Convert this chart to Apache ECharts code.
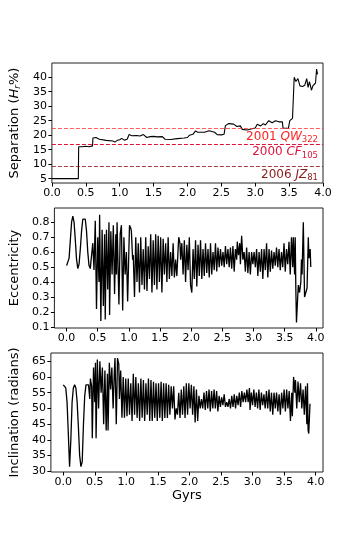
<!DOCTYPE html>
<html>
<head>
<meta charset="utf-8">
<script src="https://cdn.jsdelivr.net/npm/echarts@6/dist/echarts.min.js"></script>
<style>
  html, body { margin: 0; padding: 0; background: #fff; }
  #main { width: 360px; height: 540px; }
</style>
</head>
<body>
<div id="main"></div>
<script>
// separation of the pair in percent of Hill radius, [Gyr, value]
const separation = [
  [0, 5], [0.39, 5], [0.395, 16], [0.45, 16], [0.5, 16.2], [0.55, 16], [0.6, 16.3],
  [0.605, 19], [0.65, 19.2], [0.7, 18.6], [0.8, 18.2], [0.9, 18], [0.93, 17.6], [0.97, 18.3],
  [1.0, 18.4], [1.03, 18.9], [1.07, 18.3], [1.11, 18.6], [1.14, 20.2], [1.18, 19.8], [1.25, 19.9],
  [1.3, 19.7], [1.35, 20.2], [1.4, 19.2], [1.45, 19.5], [1.5, 19.6], [1.55, 19.4], [1.63, 19.5],
  [1.67, 18.6], [1.75, 18.5], [1.85, 18.8], [1.95, 19], [2.0, 19.2], [2.03, 20], [2.08, 20.3],
  [2.12, 21.5], [2.15, 21], [2.25, 21], [2.32, 21.5], [2.4, 21], [2.44, 20.2], [2.5, 20.1],
  [2.54, 20.3], [2.56, 23.3], [2.61, 24], [2.68, 23.8], [2.73, 23], [2.78, 23.2], [2.81, 22],
  [2.88, 21.8], [2.95, 22.2], [3.0, 22.5], [3.03, 23.8], [3.08, 23.2], [3.12, 24], [3.15, 23.5],
  [3.2, 25], [3.25, 24.3], [3.3, 25], [3.35, 24.6], [3.4, 24.6], [3.41, 22.5], [3.49, 22.4],
  [3.51, 25], [3.55, 25.8], [3.565, 26], [3.575, 40], [3.6, 38.5], [3.63, 39.5], [3.66, 37],
  [3.7, 36.8], [3.73, 37.2], [3.76, 39.5], [3.78, 36.5], [3.8, 38.5], [3.83, 35.5], [3.85, 37],
  [3.87, 36.8], [3.89, 38], [3.905, 42.8], [3.92, 41]
];

const eccentricity = [
  [0.00, 0.51], [0.02, 0.50], [0.04, 0.56], [0.06, 0.68], [0.08, 0.80], [0.10, 0.84], [0.12, 0.80],
  [0.14, 0.68], [0.16, 0.55], [0.18, 0.49], [0.20, 0.52], [0.22, 0.62], [0.24, 0.74], [0.26, 0.82],
  [0.28, 0.83], [0.30, 0.82], [0.32, 0.74], [0.34, 0.60], [0.36, 0.51], [0.38, 0.49], [0.40, 0.50],
  [0.42, 0.66], [0.44, 0.48], [0.46, 0.81], [0.48, 0.22], [0.50, 0.70], [0.52, 0.40], [0.53, 0.85],
  [0.55, 0.14], [0.57, 0.75], [0.59, 0.24], [0.61, 0.72], [0.62, 0.15], [0.64, 0.75], [0.66, 0.35],
  [0.68, 0.80], [0.69, 0.18], [0.71, 0.74], [0.73, 0.45], [0.75, 0.78], [0.77, 0.32], [0.79, 0.72],
  [0.80, 0.45], [0.81, 0.80], [0.84, 0.25], [0.86, 0.72], [0.88, 0.78], [0.90, 0.21], [0.92, 0.70],
  [0.94, 0.45], [0.96, 0.60], [0.98, 0.27], [1.00, 0.62], [1.01, 0.78], [1.03, 0.76], [1.04, 0.74],
  [1.06, 0.55], [1.07, 0.58], [1.09, 0.30], [1.11, 0.70], [1.13, 0.40], [1.15, 0.66], [1.17, 0.33],
  [1.19, 0.70], [1.21, 0.38], [1.23, 0.62], [1.25, 0.35], [1.27, 0.70], [1.29, 0.34], [1.31, 0.64],
  [1.33, 0.42], [1.35, 0.72], [1.37, 0.33], [1.39, 0.68], [1.41, 0.38], [1.43, 0.72], [1.45, 0.35],
  [1.47, 0.71], [1.49, 0.40], [1.51, 0.70], [1.53, 0.33], [1.55, 0.69], [1.57, 0.45], [1.59, 0.66],
  [1.61, 0.40], [1.63, 0.70], [1.65, 0.42], [1.67, 0.60], [1.69, 0.44], [1.71, 0.66], [1.73, 0.43],
  [1.75, 0.55], [1.77, 0.44], [1.79, 0.62], [1.80, 0.70], [1.82, 0.66], [1.83, 0.55], [1.85, 0.66],
  [1.87, 0.45], [1.89, 0.68], [1.91, 0.40], [1.93, 0.65], [1.95, 0.48], [1.97, 0.70], [1.99, 0.38],
  [2.01, 0.33], [2.03, 0.62], [2.05, 0.42], [2.07, 0.68], [2.09, 0.37], [2.11, 0.65], [2.13, 0.44],
  [2.15, 0.68], [2.17, 0.42], [2.19, 0.62], [2.21, 0.44], [2.23, 0.66], [2.25, 0.46], [2.27, 0.62],
  [2.29, 0.43], [2.31, 0.66], [2.33, 0.45], [2.35, 0.60], [2.37, 0.48], [2.39, 0.66], [2.41, 0.47],
  [2.43, 0.63], [2.45, 0.50], [2.47, 0.62], [2.49, 0.51], [2.51, 0.60], [2.53, 0.50], [2.55, 0.64],
  [2.57, 0.52], [2.59, 0.62], [2.61, 0.50], [2.63, 0.63], [2.65, 0.49], [2.67, 0.64], [2.69, 0.47],
  [2.71, 0.62], [2.73, 0.55], [2.74, 0.67], [2.76, 0.58], [2.78, 0.66], [2.79, 0.52], [2.81, 0.71],
  [2.83, 0.55], [2.85, 0.60], [2.87, 0.47], [2.89, 0.63], [2.91, 0.46], [2.93, 0.60], [2.95, 0.45],
  [2.97, 0.60], [2.99, 0.52], [3.01, 0.60], [3.03, 0.50], [3.05, 0.62], [3.07, 0.44], [3.09, 0.60],
  [3.11, 0.47], [3.13, 0.62], [3.15, 0.42], [3.17, 0.62], [3.19, 0.48], [3.21, 0.66], [3.23, 0.43],
  [3.25, 0.62], [3.27, 0.47], [3.29, 0.61], [3.31, 0.49], [3.33, 0.60], [3.35, 0.51], [3.37, 0.63],
  [3.39, 0.50], [3.41, 0.62], [3.43, 0.48], [3.45, 0.60], [3.47, 0.50], [3.49, 0.66], [3.51, 0.47],
  [3.53, 0.62], [3.55, 0.52], [3.57, 0.67], [3.59, 0.45], [3.61, 0.70], [3.63, 0.50], [3.64, 0.70],
  [3.66, 0.45], [3.67, 0.70], [3.68, 0.35], [3.69, 0.13], [3.71, 0.30], [3.72, 0.38], [3.74, 0.33],
  [3.76, 0.40], [3.77, 0.55], [3.78, 0.45], [3.80, 0.80], [3.81, 0.55], [3.82, 0.30], [3.84, 0.33],
  [3.85, 0.32], [3.86, 0.36], [3.88, 0.70], [3.89, 0.56], [3.91, 0.62], [3.92, 0.50]
];

const inclination = [
  [0.00, 57.5], [0.02, 57.8], [0.04, 56.5], [0.06, 52], [0.08, 42], [0.10, 31.5], [0.12, 40],
  [0.14, 52], [0.16, 56.5], [0.18, 57.5], [0.20, 56.5], [0.22, 52], [0.24, 44], [0.26, 35],
  [0.28, 31.5], [0.30, 33], [0.32, 45], [0.34, 54], [0.36, 57.5], [0.38, 58], [0.40, 57.5],
  [0.42, 53], [0.43, 59.5], [0.45, 57], [0.46, 40.5], [0.48, 63], [0.50, 52], [0.51, 64.5],
  [0.52, 40.5], [0.54, 65.5], [0.56, 50], [0.58, 65], [0.60, 55], [0.62, 63], [0.64, 45],
  [0.66, 62], [0.68, 43], [0.70, 61], [0.71, 43], [0.73, 64.5], [0.75, 56], [0.77, 63],
  [0.79, 50], [0.81, 62], [0.82, 66], [0.84, 45], [0.86, 66], [0.88, 64], [0.89, 53],
  [0.91, 62], [0.93, 47], [0.95, 60], [0.97, 47], [0.99, 59.5], [1.01, 47.5], [1.03, 59.5],
  [1.05, 48], [1.07, 58], [1.09, 46], [1.11, 61], [1.13, 48], [1.15, 60], [1.17, 47],
  [1.19, 58], [1.21, 46], [1.23, 59.5], [1.25, 47], [1.27, 59], [1.29, 46], [1.31, 58],
  [1.33, 48], [1.35, 59.5], [1.37, 46], [1.39, 59], [1.41, 46], [1.43, 58.5], [1.45, 47],
  [1.47, 58], [1.49, 46], [1.51, 58], [1.53, 47], [1.55, 58.5], [1.57, 46], [1.59, 58],
  [1.61, 47], [1.63, 58], [1.65, 47], [1.67, 57.5], [1.69, 48], [1.71, 57], [1.73, 50],
  [1.75, 57], [1.77, 46.5], [1.79, 50], [1.81, 48], [1.83, 55], [1.85, 47], [1.87, 56],
  [1.89, 48], [1.91, 57], [1.93, 47], [1.95, 58], [1.97, 48], [1.99, 58], [2.01, 50],
  [2.03, 57.5], [2.05, 48], [2.07, 57], [2.09, 45.5], [2.11, 56], [2.13, 46], [2.15, 54],
  [2.17, 50], [2.19, 53], [2.21, 50], [2.23, 55], [2.25, 49.5], [2.27, 55.5], [2.29, 50],
  [2.31, 56], [2.33, 49], [2.35, 55.5], [2.37, 50], [2.39, 56], [2.41, 50], [2.43, 55.5],
  [2.45, 49], [2.47, 54], [2.49, 50.5], [2.51, 53.5], [2.53, 51], [2.55, 54.5], [2.57, 50.5],
  [2.59, 52], [2.61, 50.5], [2.63, 53], [2.65, 50], [2.67, 54], [2.69, 50.5], [2.71, 54.5],
  [2.73, 50], [2.75, 54], [2.77, 51], [2.79, 55], [2.81, 50.5], [2.83, 55.5], [2.85, 52],
  [2.87, 55], [2.89, 52], [2.91, 56], [2.93, 52], [2.95, 56.5], [2.96, 49.5], [2.98, 55],
  [3.00, 51], [3.02, 56], [3.04, 50.5], [3.06, 55], [3.08, 50], [3.10, 56], [3.12, 49.5],
  [3.14, 55], [3.16, 51], [3.18, 54.5], [3.20, 50], [3.22, 55.5], [3.24, 50], [3.26, 56],
  [3.28, 49], [3.30, 55], [3.32, 48], [3.34, 55], [3.36, 50], [3.38, 55], [3.40, 49],
  [3.42, 54.5], [3.44, 48], [3.46, 55], [3.48, 50], [3.50, 56], [3.52, 49], [3.54, 56],
  [3.56, 50], [3.58, 55.5], [3.60, 46], [3.62, 55], [3.63, 47.5], [3.65, 60], [3.67, 55],
  [3.68, 59], [3.70, 50], [3.72, 58.5], [3.74, 52], [3.76, 58], [3.78, 50], [3.80, 56],
  [3.82, 48], [3.84, 57], [3.86, 45], [3.87, 58], [3.88, 43], [3.89, 42], [3.91, 51.5],
  [3.92, 51.5]
];

// reference pairs drawn as dashed lines on the top panel
const refYears = ['2001', '2000', '2006'];
const refNames = ['QW', 'CF', 'JZ'];
const refSubs = ['322', '105', '81'];
const refValues = [22.5, 17.0, 9.4];

const timeTicks = [0, 0.5, 1, 1.5, 2, 2.5, 3, 3.5, 4];
const sepTicks = [5, 10, 15, 20, 25, 30, 35, 40];
const eccTicks = [0.1, 0.2, 0.3, 0.4, 0.5, 0.6, 0.7, 0.8];
const incTicks = [30, 35, 40, 45, 50, 55, 60, 65];

const font = 'DejaVu Sans';
const refLineColors = ['rgba(255,40,40,0.75)', '#dc143c', 'rgba(139,0,0,0.75)'];
const refTextColors = ['#ff2020', '#dc143c', '#8b1a1a'];

let myChart = echarts.init(document.getElementById('main'));

function xAxisFor(idx, min, max, name) {
  return {
    type: 'value', gridIndex: idx, min: min, max: max,
    axisLine: { show: false, onZero: false },
    splitLine: { show: false },
    axisTick: { customValues: timeTicks, length: 3.5, lineStyle: { color: '#000' } },
    axisLabel: {
      customValues: timeTicks, formatter: v => v.toFixed(1),
      fontSize: 11, color: '#000', fontFamily: font, margin: 5
    },
    name: name || '', nameLocation: 'middle', nameGap: 17,
    nameTextStyle: { fontSize: 13, color: '#000', fontFamily: font }
  };
}

function yAxisFor(idx, min, max, ticks, name, fmt, rich) {
  return {
    type: 'value', gridIndex: idx, min: min, max: max,
    axisLine: { show: false, onZero: false },
    splitLine: { show: false },
    axisTick: { customValues: ticks, length: 3.5, lineStyle: { color: '#000' } },
    axisLabel: {
      customValues: ticks, formatter: fmt,
      fontSize: 11, color: '#000', fontFamily: font, margin: 5
    },
    name: name, nameLocation: 'middle', nameRotate: 90, nameGap: 19,
    nameTextStyle: { fontSize: 13, color: '#000', fontFamily: font, rich: rich }
  };
}

const sepRich = {
  a: { fontSize: 13, fontFamily: font, color: '#000' },
  i: { fontSize: 13, fontFamily: font, color: '#000', fontStyle: 'italic' },
  s: { fontSize: 9, fontFamily: font, color: '#000', fontStyle: 'italic', padding: [6, 0, 0, 0] }
};

const refMarks = refValues.map((v, k) => ({
  yAxis: v,
  lineStyle: { color: refLineColors[k], type: [4, 2], width: 1 },
  label: {
    show: true,
    position: 'insideEndBottom',
    distance: [5, 1],
    formatter: '{n|' + refYears[k] + ' }{i|' + refNames[k] + '}{s|' + refSubs[k] + '}',
    rich: {
      n: { fontSize: 12, fontFamily: font, color: refTextColors[k] },
      i: { fontSize: 12, fontFamily: font, color: refTextColors[k], fontStyle: 'italic' },
      s: { fontSize: 8.5, fontFamily: font, color: refTextColors[k], padding: [6, 0, 0, 0] }
    }
  }
}));

myChart.setOption({
  animation: false,
  backgroundColor: '#fff',
  grid: [
    { left: 45, top: 63, width: 278, height: 120, show: true, borderColor: '#222', borderWidth: 1 },
    { left: 45, top: 208, width: 278, height: 120, show: true, borderColor: '#222', borderWidth: 1 },
    { left: 45, top: 353, width: 278, height: 119, show: true, borderColor: '#222', borderWidth: 1 }
  ],
  xAxis: [
    xAxisFor(0, 0, 4),
    xAxisFor(1, -0.196, 4.116),
    xAxisFor(2, -0.196, 4.116, 'Gyrs')
  ],
  yAxis: [
    yAxisFor(0, 3.5, 44.9, sepTicks, '{a|Separation (}{i|H}{s|r}{a|%)}', v => String(v), sepRich),
    yAxisFor(1, 0.093, 0.895, eccTicks, 'Eccentricity', v => v.toFixed(1)),
    yAxisFor(2, 29.8, 67.6, incTicks, 'Inclination (radians)', v => String(v))
  ],
  series: [
    {
      name: 'separation', type: 'line', xAxisIndex: 0, yAxisIndex: 0,
      data: separation, showSymbol: false,
      lineStyle: { color: '#000', width: 1.1 },
      markLine: { symbol: 'none', silent: true, data: refMarks }
    },
    {
      name: 'eccentricity', type: 'line', xAxisIndex: 1, yAxisIndex: 1,
      data: eccentricity, showSymbol: false,
      lineStyle: { color: '#000', width: 1.3 }
    },
    {
      name: 'inclination', type: 'line', xAxisIndex: 2, yAxisIndex: 2,
      data: inclination, showSymbol: false,
      lineStyle: { color: '#000', width: 1.3 }
    }
  ]
});
</script>
</body>
</html>
